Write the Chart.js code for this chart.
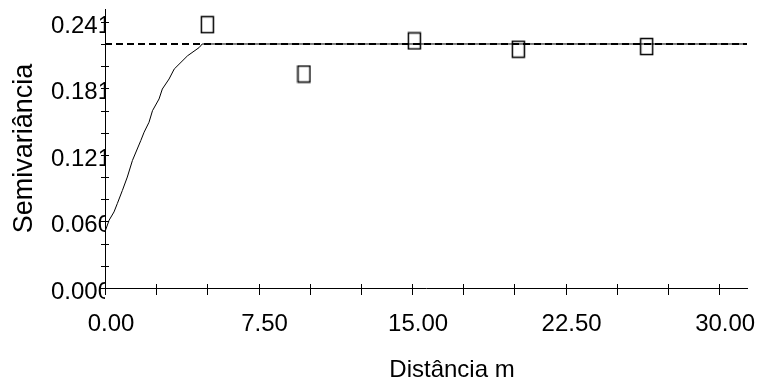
<!DOCTYPE html>
<html>
<head>
<meta charset="utf-8">
<script src="https://cdn.jsdelivr.net/npm/chart.js@4"></script>
<style>
  body { margin: 0; background: #fff; }
  canvas { display: block; }
</style>
</head>
<body>
<canvas id="chart" width="761" height="383"></canvas>
<script>
// semivariograma experimental (pontos)
let lagDist = [5.0, 9.72, 15.11, 20.19, 26.46];
let semivar = [0.2385, 0.1938, 0.2238, 0.2163, 0.2187];

// modelo ajustado
let modelX = [0, 0.2, 0.44, 0.6, 0.85, 1.09, 1.34, 1.75, 1.91, 2.15, 2.32, 2.64, 2.8, 3.13, 3.38, 4.03, 4.6, 4.75, 31.36];
let modelY = [0.051, 0.0614, 0.0689, 0.0764, 0.0884, 0.1005, 0.1155, 0.1336, 0.1411, 0.1501, 0.1606, 0.1712, 0.1802, 0.1893, 0.1983, 0.2103, 0.2178, 0.221, 0.221];

// patamar (linha tracejada)
let sillX = [0, 31.36];
let sillY = [0.221, 0.221];

// eixos
let xTickLabels = ["0.00", "7.50", "15.00", "22.50", "30.00"];
let xMajor = [0, 7.5, 15, 22.5, 30];
let yTickLabels = ["0.000", "0.060", "0.121", "0.181", "0.241"];
let yMajor = [0, 0.06025, 0.1205, 0.18075, 0.241];

// marcas menores: 3 divisões entre rótulos
function withMinor(major) {
  let out = [];
  for (let i = 0; i < major.length; i++) {
    out.push(major[i]);
    if (i < major.length - 1) {
      let d = (major[i + 1] - major[i]) / 3;
      out.push(major[i] + d, major[i] + 2 * d);
    }
  }
  return out;
}
let xTicks = withMinor(xMajor);
let yTicks = withMinor(yMajor);

function labelFor(major, labels, v) {
  let i = major.findIndex((m) => Math.abs(m - v) < 1e-9);
  return i >= 0 ? labels[i] : "";
}

// quadrado aberto como marcador
let box = document.createElement("canvas");
box.width = 15;
box.height = 19;
let b = box.getContext("2d");
b.strokeStyle = "#000";
b.lineWidth = 1.5;
b.strokeRect(1.5, 1.5, 12, 16);

let toXY = (xs, ys) => xs.map((x, i) => ({ x: x, y: ys[i] }));

// marcas cruzando os eixos + título do eixo x
let axisMarks = {
  id: "axisMarks",
  afterDraw(chart) {
    let ctx = chart.ctx;
    let xs = chart.scales.x;
    let ys = chart.scales.y;
    ctx.save();
    ctx.strokeStyle = "#000";
    ctx.lineWidth = 1;
    ctx.beginPath();
    xs.ticks.forEach((t) => {
      let px = Math.round(xs.getPixelForValue(t.value)) + 0.5;
      ctx.moveTo(px, ys.bottom - 4);
      ctx.lineTo(px, ys.bottom + 7);
    });
    ys.ticks.forEach((t) => {
      let py = Math.round(ys.getPixelForValue(t.value)) + 0.5;
      ctx.moveTo(xs.left - 4, py);
      ctx.lineTo(xs.left + 4, py);
    });
    ctx.stroke();
    ctx.fillStyle = "#000";
    ctx.font = "24px 'Liberation Sans', Arial, sans-serif";
    ctx.textAlign = "center";
    ctx.textBaseline = "middle";
    ctx.fillText("Distância m", 452, 370);
    ctx.restore();
  },
};

let chart = new Chart(document.getElementById("chart"), {
  type: "scatter",
  data: {
    datasets: [
      {
        label: "patamar",
        data: toXY(sillX, sillY),
        showLine: true,
        borderColor: "#000",
        borderWidth: 2,
        borderDash: [7, 4],
        pointRadius: 0,
      },
      {
        label: "modelo",
        data: toXY(modelX, modelY),
        showLine: true,
        borderColor: "#000",
        borderWidth: 1,
        pointRadius: 0,
        tension: 0,
      },
      {
        label: "semivariância",
        data: toXY(lagDist, semivar),
        pointStyle: box,
        pointRadius: 8,
      },
    ],
  },
  options: {
    responsive: false,
    animation: false,
    layout: { padding: { top: 8, right: 14, left: 0, bottom: 0 } },
    plugins: {
      legend: { display: false },
      tooltip: { enabled: false },
    },
    scales: {
      x: {
        type: "linear",
        min: 0,
        max: 31.36,
        afterBuildTicks: (s) => { s.ticks = xTicks.map((v) => ({ value: v })); },
        afterFit: (s) => { s.height = 95; s.paddingLeft = 0; s.paddingRight = 0; },
        grid: { display: false, drawTicks: false },
        border: { display: true, color: "#000", width: 1 },
        ticks: {
          autoSkip: false,
          maxRotation: 0,
          padding: 22,
          labelOffset: 6,
          color: "#000",
          font: { family: "'Liberation Sans', Arial, sans-serif", size: 24 },
          callback: (v) => labelFor(xMajor, xTickLabels, v),
        },
      },
      y: {
        type: "linear",
        min: 0,
        max: 0.2527,
        afterBuildTicks: (s) => { s.ticks = yTicks.map((v) => ({ value: v })); },
        afterFit: (s) => { s.width = 105; s.paddingTop = 0; s.paddingBottom = 0; },
        grid: { display: false, drawTicks: false },
        border: { display: true, color: "#000", width: 1 },
        ticks: {
          autoSkip: false,
          padding: -6,
          labelOffset: 4,
          color: "#000",
          font: { family: "'Liberation Sans', Arial, sans-serif", size: 24 },
          callback: (v) => labelFor(yMajor, yTickLabels, v),
        },
        title: {
          display: true,
          text: "Semivariância",
          color: "#000",
          padding: { top: 8, bottom: 0 },
          font: { family: "'Liberation Sans', Arial, sans-serif", size: 27 },
        },
      },
    },
  },
  plugins: [axisMarks],
});
</script>
</body>
</html>
